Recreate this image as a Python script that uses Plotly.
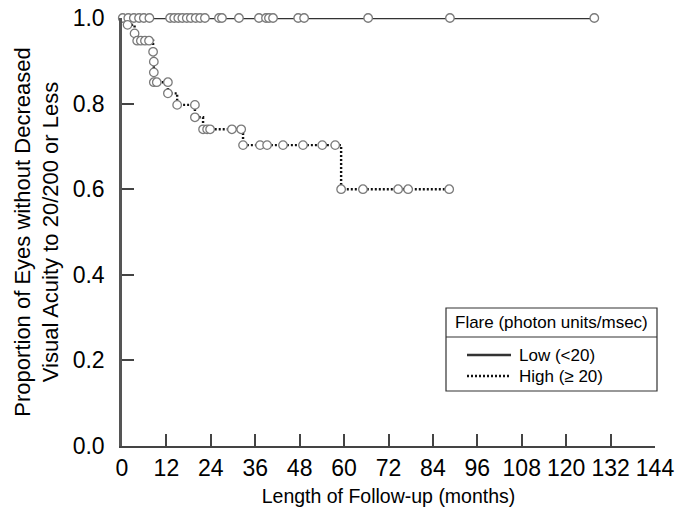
import plotly.graph_objects as go

# ---- data (months, proportion) ----
low_line_time = [0, 127.6]
low_line_surv = [1.0, 1.0]
low_censor_time = [0.2, 1.7, 3.2, 4.6, 5.9, 7.4, 13.0, 14.1, 15.2, 16.3, 17.5, 18.6, 19.9,
                   21.1, 22.4, 26.2, 27.0, 31.6, 37.0, 38.9, 39.7, 40.8, 47.6, 49.2, 66.5,
                   88.6, 127.6]
low_censor_surv = [1.0] * len(low_censor_time)

high_time = [0, 1.5, 3.4, 4.1, 5.1, 6.2, 7.3, 8.4, 8.6, 8.6, 8.6, 9.4, 12.4, 12.4, 14.9,
             19.7, 19.7, 21.9, 23.0, 23.8, 29.7, 32.2, 32.7, 37.3, 39.2, 43.5, 48.9, 54.1,
             57.6, 59.2, 65.1, 74.6, 77.3, 88.4]
high_surv = [1.0, 0.984, 0.964, 0.947, 0.947, 0.947, 0.947, 0.921, 0.898, 0.873, 0.850,
             0.850, 0.850, 0.824, 0.797, 0.797, 0.768, 0.740, 0.740, 0.740, 0.740, 0.740,
             0.703, 0.703, 0.703, 0.703, 0.703, 0.703, 0.703, 0.600, 0.600, 0.600, 0.600,
             0.600]

x_ticks = list(range(0, 145, 12))
y_ticks = [0.0, 0.2, 0.4, 0.6, 0.8, 1.0]
y_tick_text = ["0.0", "0.2", "0.4", "0.6", "0.8", "1.0"]

legend_title = "Flare (photon units/msec)"
legend_labels = ["Low (<20)", "High (\u2265 20)"]

FONT = "Liberation Sans, Arial, Helvetica, sans-serif"
marker_style = dict(symbol="circle", size=8.5, color="white",
                    line=dict(color="#7a7a7a", width=1.3))
LOW_COLOR = "#333333"
HIGH_COLOR = "#111111"

fig = go.Figure()
fig.add_trace(go.Scatter(x=low_line_time, y=low_line_surv, mode="lines",
                         line=dict(color=LOW_COLOR, width=2.6), cliponaxis=False,
                         showlegend=False, hoverinfo="skip"))
fig.add_trace(go.Scatter(x=high_time, y=high_surv, mode="lines", line_shape="hv",
                         line=dict(color=HIGH_COLOR, width=2.4, dash="2px,2px"),
                         cliponaxis=False, showlegend=False))
fig.add_trace(go.Scatter(x=low_censor_time, y=low_censor_surv, mode="markers",
                         marker=marker_style, cliponaxis=False, showlegend=False))
fig.add_trace(go.Scatter(x=high_time[1:], y=high_surv[1:], mode="markers",
                         marker=marker_style, cliponaxis=False, showlegend=False))

# ---- manual legend box (paper coords) ----
def px_x(p):
    return (p - 122) / 533.0

def px_y(p):
    return (446 - p) / 428.0

fig.add_shape(type="rect", xref="paper", yref="paper",
              x0=px_x(446), x1=px_x(657), y0=px_y(391), y1=px_y(308),
              line=dict(color="#333", width=1.2), fillcolor="white", layer="above")
fig.add_shape(type="line", xref="paper", yref="paper",
              x0=px_x(446), x1=px_x(657), y0=px_y(337), y1=px_y(337),
              line=dict(color="#333", width=1.2))
fig.add_shape(type="line", xref="paper", yref="paper",
              x0=px_x(467), x1=px_x(511), y0=px_y(355), y1=px_y(355),
              line=dict(color=LOW_COLOR, width=2.4))
fig.add_shape(type="line", xref="paper", yref="paper",
              x0=px_x(467), x1=px_x(511), y0=px_y(376), y1=px_y(376),
              line=dict(color=HIGH_COLOR, width=2.4, dash="2px,2px"))
fig.add_annotation(xref="paper", yref="paper", x=px_x(551.5), y=px_y(322.5),
                   text=legend_title, showarrow=False, xanchor="center", yanchor="middle",
                   font=dict(family=FONT, size=17, color="black"))
fig.add_annotation(xref="paper", yref="paper", x=px_x(517), y=px_y(355),
                   text=legend_labels[0], showarrow=False, xanchor="left", yanchor="middle",
                   font=dict(family=FONT, size=17, color="black"))
fig.add_annotation(xref="paper", yref="paper", x=px_x(517), y=px_y(376),
                   text=legend_labels[1], showarrow=False, xanchor="left", yanchor="middle",
                   font=dict(family=FONT, size=17, color="black"))

fig.update_layout(
    template="none",
    width=675, height=523,
    margin=dict(l=122, r=20, t=18, b=77, autoexpand=False),
    paper_bgcolor="white", plot_bgcolor="white",
    font=dict(family=FONT, color="black"),
    xaxis=dict(range=[0, 144], tickvals=x_ticks, ticks="inside", ticklen=12,
               tickwidth=1.5, tickcolor="#444", showline=True, linecolor="#444",
               linewidth=2, showgrid=False, zeroline=False, automargin=False,
               tickfont=dict(size=23, family=FONT, color="black"), ticklabelstandoff=0,
               title=dict(text="Length of Follow-up (months)", standoff=10,
                          font=dict(size=19.5, family=FONT, color="black"))),
    yaxis=dict(range=[0, 1.0], tickvals=y_ticks, ticktext=y_tick_text, ticks="inside",
               ticklen=12, tickwidth=1.5, tickcolor="#444", showline=True,
               linecolor="#555", linewidth=2.5, showgrid=False, zeroline=False,
               automargin=False,
               tickfont=dict(size=23, family=FONT, color="black"), ticklabelstandoff=10,
               title=dict(text="Proportion of Eyes without Decreased<br>Visual Acuity to 20/200 or Less",
                          standoff=8, font=dict(size=22, family=FONT, color="black"))),
)

fig.write_html("out.html")
